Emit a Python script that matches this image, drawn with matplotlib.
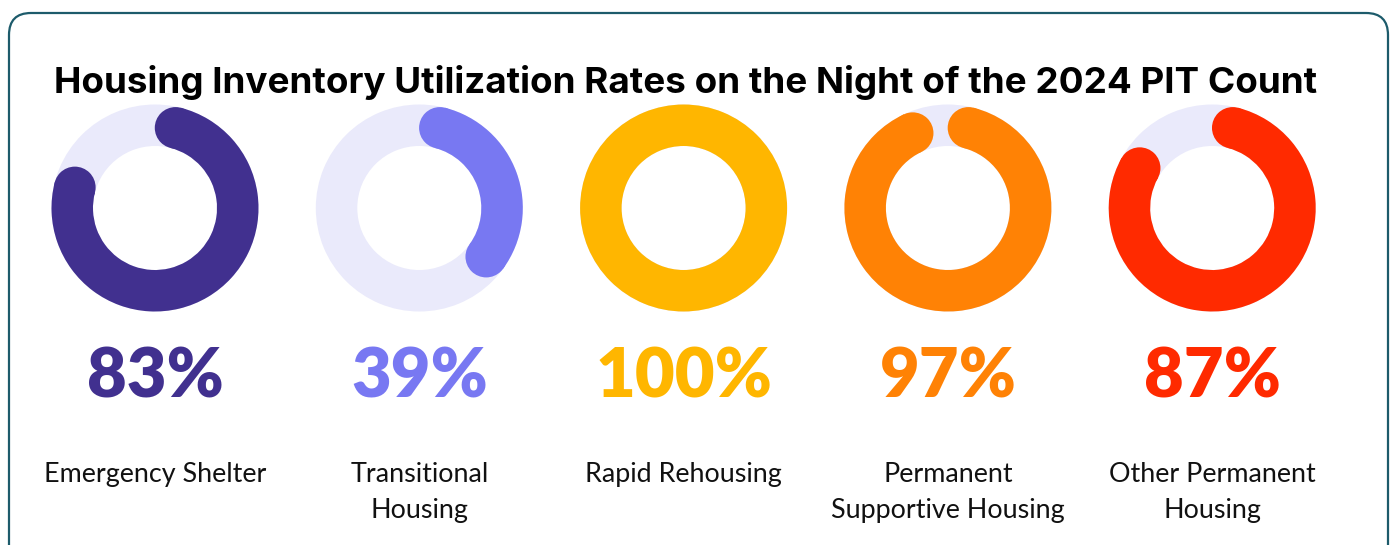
import matplotlib
matplotlib.use("Agg")
import matplotlib.pyplot as plt
from matplotlib.patches import Wedge, Circle, FancyBboxPatch
import numpy as np

# ---- data ----
categories = ["Emergency Shelter", "Transitional\nHousing", "Rapid Rehousing",
              "Permanent\nSupportive Housing", "Other Permanent\nHousing"]
rates = [83, 39, 100, 97, 87]
colors = ["#41308F", "#7878F2", "#FFB600", "#FF8205", "#FF2A00"]
track_color = "#EAEAFB"
title = "Housing Inventory Utilization Rates on the Night of the 2024 PIT Count"

W, H = 1396, 545
fig = plt.figure(figsize=(W / 100, H / 100), dpi=100)
ax = fig.add_axes([0, 0, 1, 1])
ax.set_xlim(0, W)
ax.set_ylim(0, H)
ax.axis("off")

def Y(y):  # pixel-from-top to data
    return H - y

# border
border = FancyBboxPatch((9, Y(575)), 1379, 562,
                        boxstyle="round,pad=0,rounding_size=22",
                        fc="white", ec="#1D5B6B", lw=1.6, zorder=0)
ax.add_patch(border)

renderer = fig.canvas.get_renderer()

def width_scale(txt, fs, target_w, **kw):
    t = ax.text(0, 0, txt, fontsize=fs, **kw)
    bb = t.get_window_extent(renderer=renderer)
    t.remove()
    return fs * target_w / bb.width

title_fs = width_scale(title, 24, 1268, fontweight="bold", family="Inter")
ax.text(686, Y(83), title, ha="center", va="center", fontsize=title_fs,
        fontweight="bold", family="Inter", color="black")

pct_fs = width_scale("83%", 48, 137, fontweight="heavy", family="Lato")
lab_fs = width_scale("Emergency Shelter", 17, 222, family="Lato")

x0, step, cy = 155, 264.3, 208
R, r = 103.5, 62.0
w = R - r
rm = (R + r) / 2
cap = np.degrees((w / 2) / rm)

for i, (cat, p, col) in enumerate(zip(categories, rates, colors)):
    cx = x0 + i * step
    c = (cx, Y(cy))
    ax.add_patch(Wedge(c, R, 0, 360, width=w, fc=track_color, ec="none", zorder=1))
    frac = p / 100.0
    if frac >= 1:
        ax.add_patch(Wedge(c, R, 0, 360, width=w, fc=col, ec="none", zorder=2))
    else:
        start = 90 - cap
        end = 90 - frac * 360 + cap
        ax.add_patch(Wedge(c, R, end, start, width=w, fc=col, ec="none", zorder=2))
        for a in (start, end):
            ar = np.radians(a)
            ax.add_patch(Circle((cx + rm * np.cos(ar), Y(cy) + rm * np.sin(ar)),
                                w / 2, fc=col, ec="none", zorder=3))
    ax.text(cx, Y(397), f"{p}%", ha="center", va="baseline", fontsize=pct_fs,
            fontweight="heavy", family="Lato", color=col)
    lines = cat.split("\n")
    for j, ln in enumerate(lines):
        ax.text(cx, Y(482 + 36 * j), ln, ha="center", va="baseline",
                fontsize=lab_fs, family="Lato", color="#111111")

fig.savefig("out.png", dpi=100)
